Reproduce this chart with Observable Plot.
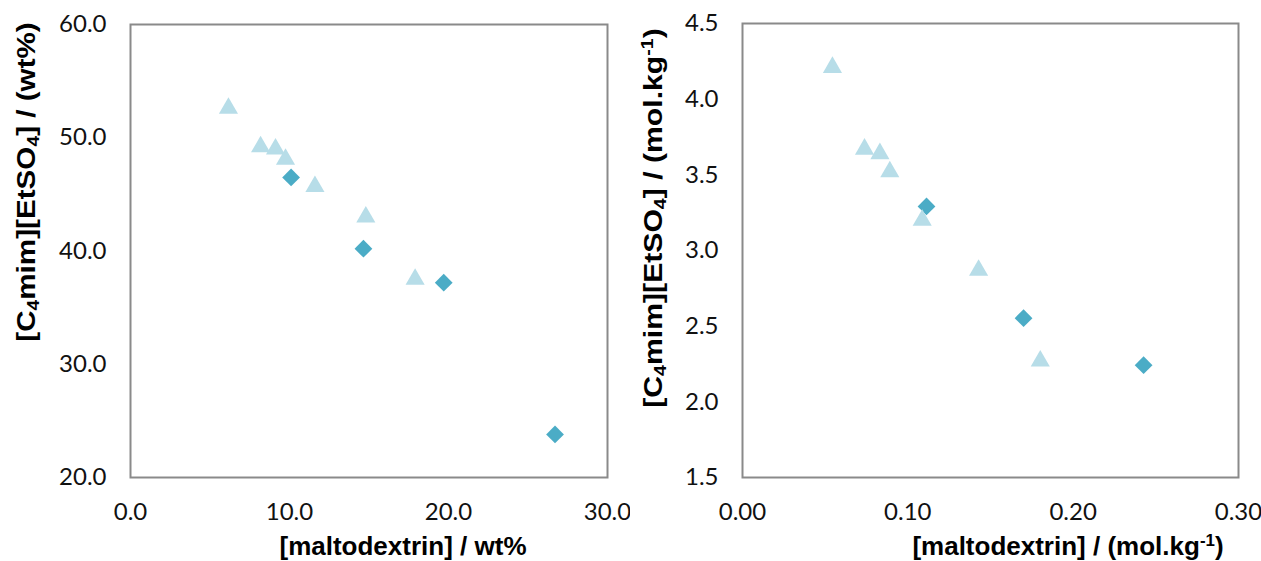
<!DOCTYPE html>
<html>
<head>
<meta charset="utf-8">
<script src="https://cdn.jsdelivr.net/npm/d3@7"></script>
<script src="https://cdn.jsdelivr.net/npm/@observablehq/plot@0.6"></script>
<style>
  html, body { margin: 0; padding: 0; background: #fff; }
  #wrap { position: relative; width: 1261px; height: 561px; }
  .panel { position: absolute; top: 0; }
  .title { position: absolute; font-family: "Liberation Sans", Arial, sans-serif; font-weight: bold;
           font-size: 26px; color: #000; white-space: nowrap; line-height: 1; }
  .title sub { font-size: 0.65em; vertical-align: -0.25em; line-height: 0; }
  .title sup { font-size: 0.65em; vertical-align: 0.55em; line-height: 0; }
</style>
</head>
<body>
<div id="wrap">
  <div id="left" class="panel" style="left:0px"></div>
  <div id="right" class="panel" style="left:630px"></div>
  <div class="title" style="left:403px; top:546px; transform: translate(-50%,-50%);">[maltodextrin] / wt%</div>
  <div class="title" style="left:1068px; top:546px; transform: translate(-50%,-50%);">[maltodextrin] / (mol.kg<sup>-1</sup>)</div>
  <div class="title" style="left:26px; top:182px; transform: translate(-50%,-50%) rotate(-90deg) scaleX(1.14);">[C<sub>4</sub>mim][EtSO<sub>4</sub>] / (wt%)</div>
  <div class="title" style="left:653px; top:218px; transform: translate(-50%,-50%) rotate(-90deg) scaleX(1.16);">[C<sub>4</sub>mim][EtSO<sub>4</sub>] / (mol.kg<sup>-1</sup>)</div>
</div>
<script>
// Left panel: wt%
const wtTriX = [6.16, 8.18, 9.12, 9.75, 11.6, 14.8, 17.9];
const wtTriY = [52.6, 49.2, 49.0, 48.1, 45.7, 43.0, 37.5];
const wtDiaX = [10.1, 14.65, 19.7, 26.7];
const wtDiaY = [46.5, 40.2, 37.2, 23.8];
const wtXTicks = [0, 10, 20, 30];
const wtYTicks = [20, 30, 40, 50, 60];

// Right panel: mol/kg
const molTriX = [0.0544, 0.0738, 0.0831, 0.0891, 0.1087, 0.1428, 0.1801];
const molTriY = [4.21, 3.67, 3.64, 3.52, 3.20, 2.87, 2.27];
const molDiaX = [0.1113, 0.170, 0.2426];
const molDiaY = [3.291, 2.553, 2.242];
const molXTicks = [0, 0.1, 0.2, 0.3];
const molYTicks = [1.5, 2.0, 2.5, 3.0, 3.5, 4.0, 4.5];

const triColor = "#b7dde8";
const diaColor = "#4bacc6";

function zip(xs, ys) { return xs.map((x, i) => ({x, y: ys[i]})); }

function makePanel(o) {
  return Plot.plot({
    width: o.width, height: 561,
    marginLeft: o.ml, marginRight: o.mr, marginTop: o.mt, marginBottom: 84,
    style: {fontFamily: "Lato, 'Open Sans', sans-serif", fontSize: "24px", color: "#111", background: "transparent"},
    x: {domain: o.xDomain},
    y: {domain: o.yDomain},
    marks: [
      Plot.axisX({ticks: o.xTicks, tickFormat: o.xFmt, tickSize: 0, tickPadding: 25, label: null}),
      Plot.axisY({ticks: o.yTicks, tickFormat: o.yFmt, tickSize: 0, tickPadding: 24, label: null}),
      Plot.frame({stroke: "#8a8a8a", strokeWidth: 2}),
      Plot.dot(zip(o.dx, o.dy), {x: "x", y: "y", symbol: "diamond2", r: 8, fill: diaColor, stroke: "none"}),
      Plot.dot(zip(o.tx, o.ty), {x: "x", y: "y", symbol: "triangle", r: 7.1, fill: triColor, stroke: "none"})
    ]
  });
}

document.getElementById("left").append(makePanel({
  width: 630, ml: 130, mr: 23, mt: 24,
  xDomain: [0, 30], yDomain: [20, 60],
  xTicks: wtXTicks, yTicks: wtYTicks,
  xFmt: d => d.toFixed(1), yFmt: d => d.toFixed(1),
  tx: wtTriX, ty: wtTriY, dx: wtDiaX, dy: wtDiaY
}));

document.getElementById("right").append(makePanel({
  width: 631, ml: 112, mr: 23, mt: 23,
  xDomain: [0, 0.3], yDomain: [1.5, 4.5],
  xTicks: molXTicks, yTicks: molYTicks,
  xFmt: d => d.toFixed(2), yFmt: d => d.toFixed(1),
  tx: molTriX, ty: molTriY, dx: molDiaX, dy: molDiaY
}));
</script>
</body>
</html>
